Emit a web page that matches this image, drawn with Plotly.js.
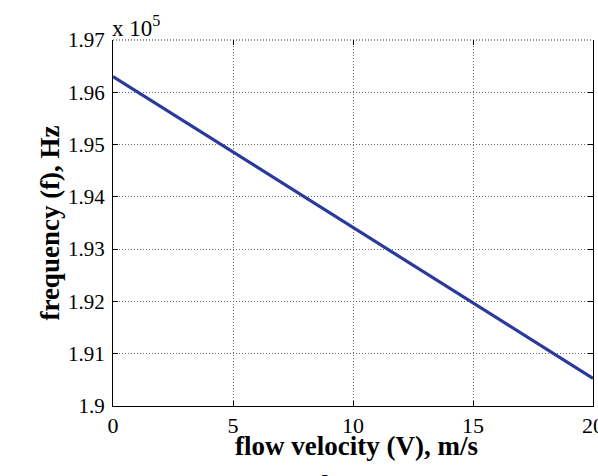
<!DOCTYPE html>
<html><head><meta charset="utf-8">
<script src="https://cdn.plot.ly/plotly-3.0.1.min.js"></script>
<style>html,body{margin:0;padding:0;background:#fff}</style>
</head><body>
<div id="chart" style="width:598px;height:476px"></div>
<script>
// flow velocity (m/s)
const velocity = [0, 5, 10, 15, 20];
// frequency in units of 1e5 Hz
const frequency = [1.963, 1.9486, 1.9342, 1.9197, 1.9053];
const xTicks = [0, 5, 10, 15, 20];
const yTickVals = [1.9, 1.91, 1.92, 1.93, 1.94, 1.95, 1.96, 1.97];
const yTickText = ["1.9", "1.91", "1.92", "1.93", "1.94", "1.95", "1.96", "1.97"];
const xTitle = "flow velocity (V), m/s";
const yTitle = "frequency (f), Hz";

const font = "Liberation Serif, Times New Roman, serif";
const gridStyle = {showgrid: true, gridcolor: "#6a6a6a", griddash: "1px,2px", gridwidth: 1};
Plotly.newPlot("chart", [
  {x: velocity, y: frequency, type: "scatter", mode: "lines",
   line: {color: "#2a3a9c", width: 3.2}, hoverinfo: "skip"},
  {x: velocity, y: frequency, xaxis: "x2", type: "scatter", mode: "lines",
   line: {width: 0}, hoverinfo: "skip", showlegend: false, opacity: 0}
], {
  width: 598, height: 476,
  margin: {l: 113, r: 5, t: 40, b: 70},
  paper_bgcolor: "#fff", plot_bgcolor: "#fff",
  showlegend: false,
  font: {family: font, color: "#000", size: 16},
  xaxis: Object.assign({
    range: [0, 20], tickvals: xTicks, ticktext: xTicks.map(String),
    ticks: "inside", ticklen: 5, tickcolor: "#000",
    showline: true, linecolor: "#000", linewidth: 1,
    zeroline: false, tickfont: {family: font, size: 22}, ticklabelstandoff: 0,
    ticklabeloverflow: "allow"
  }, gridStyle),
  xaxis2: {
    overlaying: "x", matches: "x", side: "top", range: [0, 20], tickvals: xTicks,
    ticks: "inside", ticklen: 5, tickcolor: "#000", showticklabels: false,
    showline: false, showgrid: false, zeroline: false
  },
  yaxis: Object.assign({
    range: [1.9, 1.97], tickvals: yTickVals, ticktext: yTickText,
    ticks: "inside", ticklen: 5, tickcolor: "#000", mirror: "ticks",
    showline: true, linecolor: "#000", linewidth: 1,
    zeroline: false, tickfont: {family: font, size: 21}, ticklabelstandoff: 3,
    title: {text: yTitle, font: {family: font, size: 27, weight: "bold"}, standoff: 0}
  }, gridStyle),
  shapes: [
    {type: "line", xref: "paper", yref: "paper", x0: 0, x1: 1, y0: 1, y1: 1,
     line: {color: "#222", width: 1, dash: "1px,2px"}}
  ],
  annotations: [
    {text: xTitle, xref: "paper", yref: "paper", x: 0.5, y: -0.108, xanchor: "center", yanchor: "middle",
     showarrow: false, font: {family: font, size: 27, weight: "bold"}, xshift: 3},
    {text: "x 10<sup>5</sup>", xref: "paper", yref: "paper", x: 0, y: 1, xanchor: "left", yanchor: "bottom",
     showarrow: false, font: {family: font, size: 23}, xshift: -3, yshift: -3},
    {text: "6", xref: "paper", yref: "paper", x: 0.438, y: -0.166, xanchor: "center", yanchor: "top",
     showarrow: false, font: {family: font, size: 22}}
  ]
}, {displayModeBar: false, staticPlot: true});
</script>
</body></html>
